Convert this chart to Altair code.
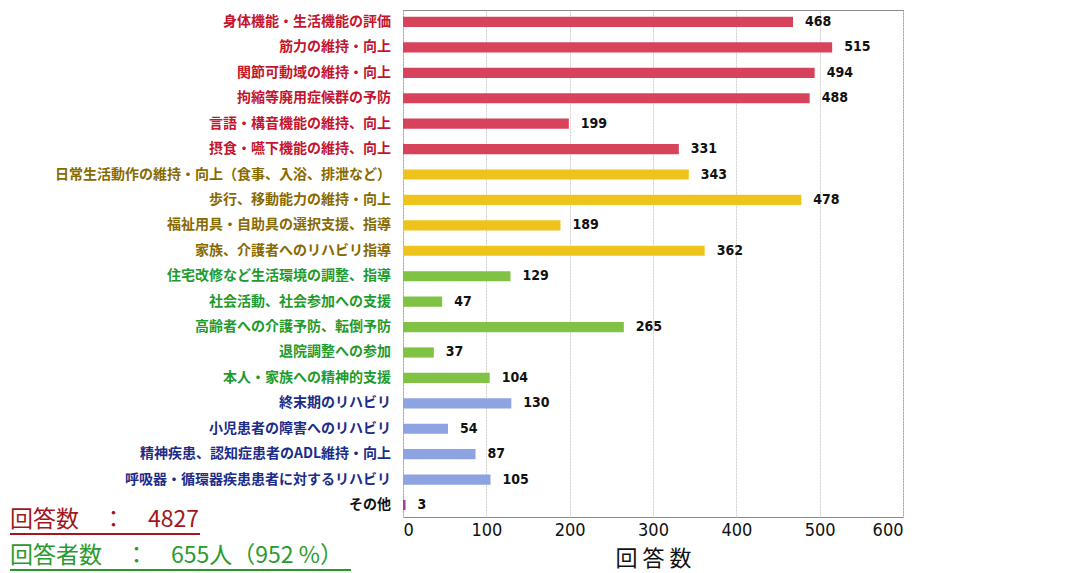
import altair as alt
import pandas as pd

categories = [
    "身体機能・生活機能の評価",
    "筋力の維持・向上",
    "関節可動域の維持・向上",
    "拘縮等廃用症候群の予防",
    "言語・構音機能の維持、向上",
    "摂食・嚥下機能の維持、向上",
    "日常生活動作の維持・向上（食事、入浴、排泄など）",
    "歩行、移動能力の維持・向上",
    "福祉用具・自助具の選択支援、指導",
    "家族、介護者へのリハビリ指導",
    "住宅改修など生活環境の調整、指導",
    "社会活動、社会参加への支援",
    "高齢者への介護予防、転倒予防",
    "退院調整への参加",
    "本人・家族への精神的支援",
    "終末期のリハビリ",
    "小児患者の障害へのリハビリ",
    "精神疾患、認知症患者のADL維持・向上",
    "呼吸器・循環器疾患患者に対するリハビリ",
    "その他",
]
values = [468, 515, 494, 488, 199, 331, 343, 478, 189, 362,
          129, 47, 265, 37, 104, 130, 54, 87, 105, 3]
groups = ["A"] * 6 + ["B"] * 4 + ["C"] * 5 + ["D"] * 4 + ["E"]

group_names = ["A", "B", "C", "D", "E"]
bar_colors = ["#d8435c", "#eec41c", "#7fc244", "#8ea4e2", "#a33aa6"]
label_colors = ["#c4142e", "#876a00", "#1e9b2c", "#1c2c88", "#111111"]

x_ticks = [0, 100, 200, 300, 400, 500, 600]
x_title = "回 答 数"
note1 = "回答数　：　4827"
note2 = "回答者数　：　655人（952 %）"

df = pd.DataFrame({"category": categories, "value": values, "group": groups})

num_font = "Liberation Sans Narrow, DejaVu Sans Condensed, Arial, sans-serif"

y_enc = alt.Y("category:N", sort=categories, axis=None,
              scale=alt.Scale(paddingInner=0.6, paddingOuter=0.27))

base = alt.Chart(df)

bars = base.mark_bar().encode(
    x=alt.X("value:Q",
            scale=alt.Scale(domain=[0, 600], nice=False),
            axis=alt.Axis(values=x_ticks, title=x_title, grid=True,
                          gridColor="#cfcfcf", gridDash=[2, 1],
                          domain=False, ticks=False,
                          labelFont=num_font, labelFontSize=18,
                          labelColor="#111", labelPadding=4,
                          titleFont="Noto Sans CJK JP", titleFontSize=22,
                          titleFontWeight="normal", titleColor="#111",
                          titlePadding=9)),
    y=y_enc,
    color=alt.Color("group:N", scale=alt.Scale(domain=group_names, range=bar_colors),
                    legend=None),
)

value_labels = base.mark_text(align="left", baseline="middle", dx=12,
                              font=num_font, fontSize=14, fontWeight="bold",
                              color="#111").encode(
    x="value:Q", y=y_enc, text="value:Q")

cat_labels = base.mark_text(align="right", baseline="middle",
                            font="Noto Sans CJK JP", fontSize=14,
                            fontWeight="bold").encode(
    x=alt.value(-12), y=y_enc, text="category:N",
    color=alt.Color("group:N", scale=alt.Scale(domain=group_names, range=label_colors),
                    legend=None))

notes_df = pd.DataFrame({"t": [note1], "t2": [note2]})
n1 = alt.Chart(notes_df).mark_text(align="left", baseline="middle",
                                   font="Noto Sans CJK JP", fontSize=23,
                                   fontWeight="normal", color="#a3161c").encode(
    x=alt.value(-393), y=alt.value(510), text="t:N")
n2 = alt.Chart(notes_df).mark_text(align="left", baseline="middle",
                                   font="Noto Sans CJK JP", fontSize=23,
                                   fontWeight="normal", color="#2a9a2e").encode(
    x=alt.value(-393), y=alt.value(546), text="t2:N")
u1 = alt.Chart(notes_df).mark_rule(color="#a3161c", strokeWidth=2).encode(
    x=alt.value(-393), x2=alt.value(-203), y=alt.value(524))
u2 = alt.Chart(notes_df).mark_rule(color="#2a9a2e", strokeWidth=2).encode(
    x=alt.value(-393), x2=alt.value(-52), y=alt.value(560))

chart = alt.layer(bars, value_labels, cat_labels, n1, n2, u1, u2).resolve_scale(
    color="independent"
).properties(
    width=500, height=507,
    autosize=alt.AutoSizeParams(type="none"),
    padding={"left": 403, "top": 10, "right": 164, "bottom": 56},
    background="white",
).configure_view(stroke="#8a8a8a", strokeWidth=1)

chart.save("out.html", embed_options={"renderer": "svg", "actions": False})
